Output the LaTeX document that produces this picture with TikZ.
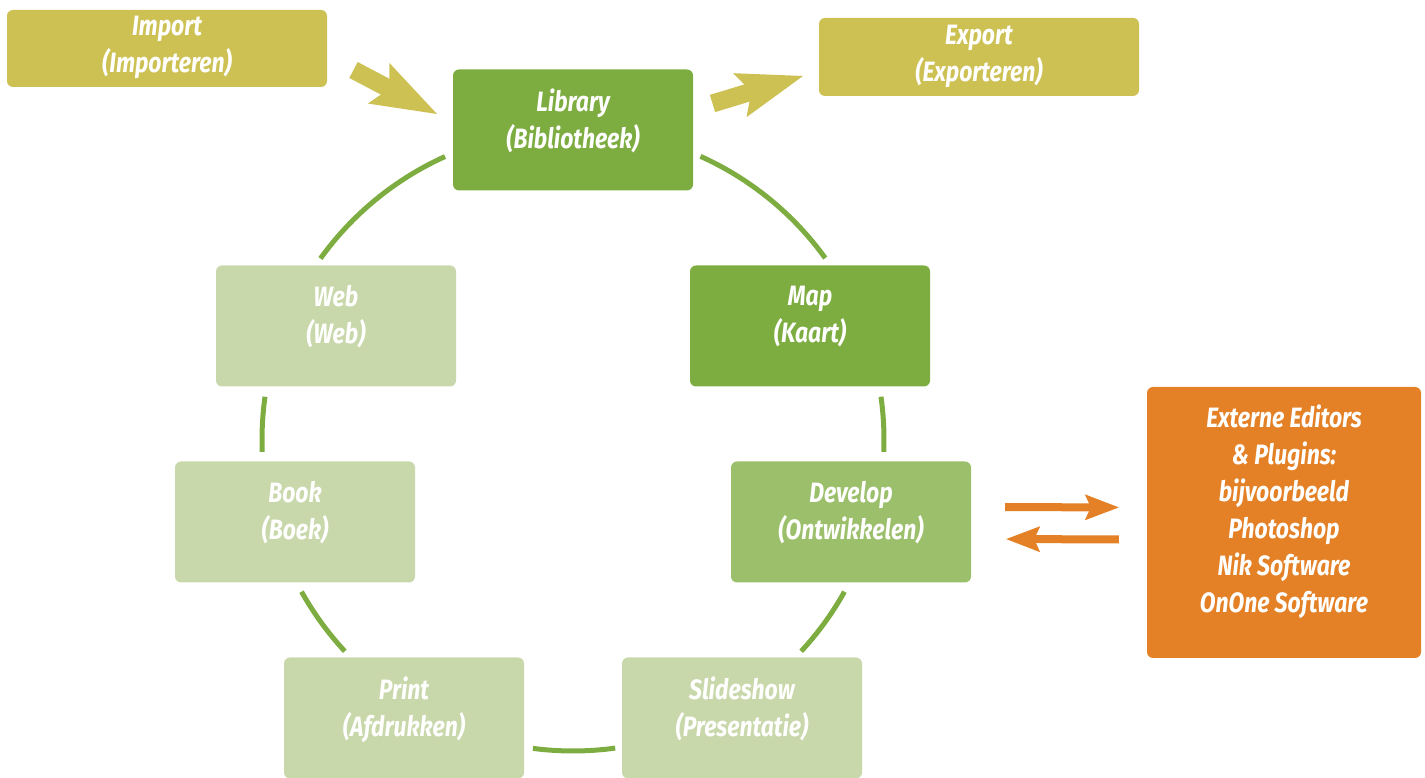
\documentclass[tikz,border=0pt]{standalone}
\usepackage{fontspec}
\newfontfamily\boxfont{Fira Sans}[FakeStretch=0.82]
\usetikzlibrary{arrows.meta, positioning}

\definecolor{darkgreen}{HTML}{7DAC40}
\definecolor{midgreen}{HTML}{9CBF6C}
\definecolor{palegreen}{HTML}{C9D8AB}
\definecolor{olive}{HTML}{CDC154}
\definecolor{lrorange}{HTML}{E48126}

\tikzset{
    box/.style={rectangle, rounded corners=6pt, minimum width=240, minimum height=121,
        text=white, align=center, inner sep=4pt, text depth=23pt,
        font=\boxfont\fontsize{28}{37}\selectfont\bfseries\itshape},
    ring/.style={draw=darkgreen, line width=5pt},
    fatarrow/.style={draw=olive, line width=18pt,
        -{Stealth[length=66pt, width=46pt, inset=12pt, line width=0pt]}},
    swaparrow/.style={draw=lrorange, line width=8pt,
        -{Stealth[length=34pt, width=26pt, inset=6pt, line width=0pt]}}
}

\begin{document}
\begin{tikzpicture}[x=1pt, y=1pt]
    \useasboundingbox (0,0) rectangle (1425,778);
    \coordinate (ctr) at (573,338);

    % modules round the ring
    \node (lib) at (573,648) [box, fill=darkgreen] {Library\\(Bibliotheek)};
    \node (map) at (810,452) [box, fill=darkgreen] {Map\\(Kaart)};
    \node (dev) at (851,256) [box, fill=midgreen] {Develop\\(Ontwikkelen)};
    \node (slide) at (742,60) [box, fill=palegreen] {Slideshow\\(Presentatie)};
    \node (print) at (404,60) [box, fill=palegreen] {Print\\(Afdrukken)};
    \node (book) at (295,256) [box, fill=palegreen] {Book\\(Boek)};
    \node (web) at (336,452) [box, fill=palegreen] {Web\\(Web)};

    \draw[ring] ([shift={(65.8:311)}]ctr) arc[start angle=65.8, end angle=35.8, radius=311pt];
    \draw[ring] ([shift={(8:311)}]ctr) arc[start angle=8, end angle=-2.2, radius=311pt];
    \draw[ring] ([shift={(-29.2:311)}]ctr) arc[start angle=-29.2, end angle=-42.8, radius=311pt];
    \draw[ring] ([shift={(-82.2:311)}]ctr) arc[start angle=-82.2, end angle=-97.4, radius=311pt];
    \draw[ring] ([shift={(-137.2:311)}]ctr) arc[start angle=-137.2, end angle=-150.8, radius=311pt];
    \draw[ring] ([shift={(182.2:311)}]ctr) arc[start angle=182.2, end angle=172, radius=311pt];
    \draw[ring] ([shift={(144.3:311)}]ctr) arc[start angle=144.3, end angle=114.3, radius=311pt];

    % import and export
    \node (imp) at (167,729.5) [box, fill=olive, minimum width=320, minimum height=77, text depth=8pt] {Import\\(Importeren)};
    \node (exp) at (979,721) [box, fill=olive, minimum width=320, minimum height=78, text depth=8pt] {Export\\(Exporteren)};

    \coordinate (impA) at (353.5,708);
    \coordinate (impB) at (437,664);
    \coordinate (expA) at (712.5,674.5);
    \coordinate (expB) at (803,702);
    \draw[fatarrow] (impA) -- (impB);
    \draw[fatarrow] (expA) -- (expB);

    % external editors
    \node (ext) at (1284,255.5) [box, fill=lrorange, minimum width=274, minimum height=271, text depth=28pt]
        {Externe Editors\\\& Plugins:\\bijvoorbeeld\\Photoshop\\Nik Software\\OnOne Software};

    \draw[swaparrow, shorten <=34pt, shorten >=28pt] ([yshift=15]dev.east) -- ([yshift=15]ext.west);
    \draw[swaparrow, shorten <=28pt, shorten >=35pt] ([yshift=-17]ext.west) -- ([yshift=-17]dev.east);

\end{tikzpicture}
\end{document}
